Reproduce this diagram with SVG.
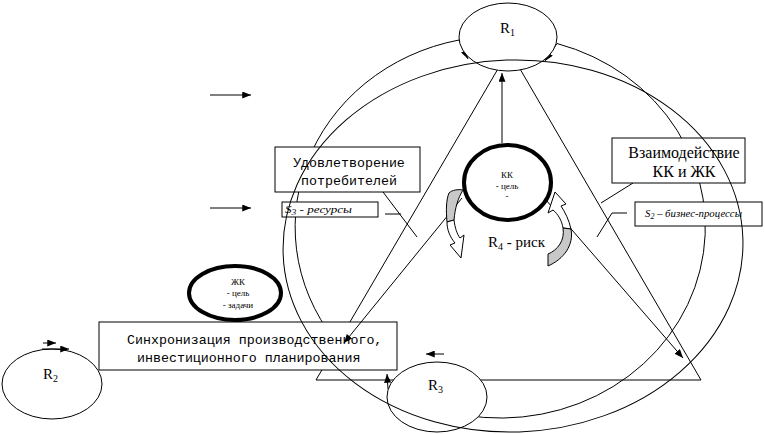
<svg xmlns="http://www.w3.org/2000/svg" width="765" height="434" viewBox="0 0 765 434">
<style>
.ln{fill:none;stroke:#000;stroke-width:1}
.nd{fill:#fff;stroke:#000;stroke-width:1}
.thick{fill:#fff;stroke:#000;stroke-width:4}
.box{fill:#fff;stroke:#000;stroke-width:1}
.mono{font-family:"Liberation Mono","Courier New",monospace;font-size:13.3px;fill:#000}
.ser{font-family:"Liberation Serif","Times New Roman",serif;fill:#000}
.r{font-family:"Liberation Serif","Times New Roman",serif;font-size:15px;fill:#000}
.sm{font-family:"Liberation Serif","Times New Roman",serif;font-size:9px;fill:#000;text-anchor:middle}
.it{font-family:"Liberation Serif","Times New Roman",serif;font-style:italic;font-size:11px;fill:#000}
.gray{fill:#c8c8c8;stroke:#000;stroke-width:1}
.wh{fill:#fff;stroke:#000;stroke-width:1}
</style>
<defs>
<marker id="ah" viewBox="0 0 10 8" refX="10" refY="4" markerWidth="9" markerHeight="7" orient="auto" markerUnits="userSpaceOnUse"><path d="M0,0 L10,4 L0,8 z" fill="#000"/></marker>
</defs>
<rect width="765" height="434" fill="#fff"/>

<g id="triangle"><path class="ln" d="M509,50 L316,380 L701,380 Z"/></g>

<g id="connectors-under">
<path class="ln" d="M343,349.8 A205,191 0 0 1 459,40 L468,59" marker-end="url(#ah)"/>
<path class="ln" d="M464.4,415.1 A205,191 0 0 0 557,43.5 L545,61" marker-end="url(#ah)"/>
<path class="ln" d="M383,192 L417,237"/>
<path class="ln" d="M385,214 L401,214"/>
<path class="ln" d="M633,183 L601,203"/>
<path class="ln" d="M627,213 L612,213 L597,237"/>
</g>

<g id="R1"><ellipse class="nd" cx="508" cy="37" rx="49" ry="34"/><text class="r" x="500" y="33">R<tspan font-size="10" dy="3">1</tspan></text></g>
<g id="R2"><ellipse class="nd" cx="52" cy="384" rx="50" ry="35"/><text class="r" x="43" y="379">R<tspan font-size="10" dy="3">2</tspan></text></g>
<g id="R3"><ellipse class="nd" cx="437" cy="397" rx="50" ry="35"/><text class="r" x="428" y="390">R<tspan font-size="10" dy="3">3</tspan></text></g>

<g id="KK"><ellipse class="thick" cx="507.5" cy="182.5" rx="43.5" ry="37.5"/>
<text class="sm" x="507" y="178">КК</text><text class="sm" x="507" y="189">- цель</text><text class="sm" x="507" y="199">-</text></g>

<g id="ZhK"><ellipse class="thick" cx="235" cy="293" rx="46" ry="27"/>
<text class="sm" x="238" y="285">ЖК</text><text class="sm" x="238" y="296">- цель</text><text class="sm" x="238" y="308">- задачи</text></g>

<g id="box-satisfaction"><rect class="box" x="275" y="147" width="145" height="45"/>
<text class="mono" x="349" y="167" text-anchor="middle">Удовлетворение</text>
<text class="mono" x="349" y="185" text-anchor="middle">потребителей</text></g>

<g id="box-s3"><rect class="box" x="282" y="202" width="96" height="15"/>
<text class="it" x="285" y="213" textLength="67" lengthAdjust="spacingAndGlyphs">S<tspan font-size="8" dy="2">3</tspan><tspan dy="-2"> - ресурсы</tspan></text></g>

<g id="box-sync"><rect class="box" x="99" y="322" width="298" height="48"/>
<text class="mono" x="127" y="344">Синхронизация производственного,</text>
<text class="mono" x="137" y="362">инвестиционного планирования</text></g>

<g id="box-interaction"><rect class="box" x="612" y="138" width="133" height="45"/>
<text class="ser" font-size="16" x="684" y="158" text-anchor="middle">Взаимодействие</text>
<text class="ser" font-size="16" x="684" y="177" text-anchor="middle">КК и ЖК</text></g>

<g id="box-s2"><rect class="box" x="635" y="202" width="127" height="24"/>
<text class="it" x="645" y="217" textLength="97" lengthAdjust="spacingAndGlyphs">S<tspan font-size="8" dy="2">2</tspan><tspan dy="-2"> – бизнес-процессы</tspan></text></g>

<g id="risk"><text class="r" x="488" y="247">R<tspan font-size="10" dy="3">4</tspan><tspan dy="-3"> - риск</tspan></text></g>

<g id="connectors">
<ellipse class="ln" cx="513" cy="246" rx="230" ry="186" transform="rotate(-2 513 246)"/>
<path class="ln" d="M502,143 L502,73" marker-end="url(#ah)"/>
<path class="ln" d="M462,198 L344,343" marker-end="url(#ah)"/>
<path class="ln" d="M546,200 L683,358" marker-end="url(#ah)"/>
<path class="ln" d="M444,354 L426,354" marker-end="url(#ah)"/>
<path class="ln" d="M388,389 L387,374" marker-end="url(#ah)"/>
<path class="ln" d="M43,343 L56,343" marker-end="url(#ah)"/>
<path class="ln" d="M42,349 L69,349" marker-end="url(#ah)"/>
<path class="ln" d="M210,95 L251,95" marker-end="url(#ah)"/>
<path class="ln" d="M210,208 L251,208" marker-end="url(#ah)"/>
</g>

<g id="curved-arrows">
<path class="gray" d="M449,193 C452,190 458,189 463,190 C458,198 455,208 454,220 L447,222 C446,211 446,200 449,193 Z"/>
<path class="wh" d="M447,222 L454,220 C455,228 457,234 460,238 L464,235 L461,258 L450,245 L455,243 C450,237 447,230 447,222 Z"/>
<path class="wh" d="M555,192 L566,204 L561,206 C565,212 569,220 571,229 L563,228 C562,221 558,214 553,210 L548,213 Z"/>
<path class="gray" d="M563,228 L571,229 C574,245 564,259 548,266 L548,254 C558,250 565,240 563,228 Z"/>
</g>
</svg>
